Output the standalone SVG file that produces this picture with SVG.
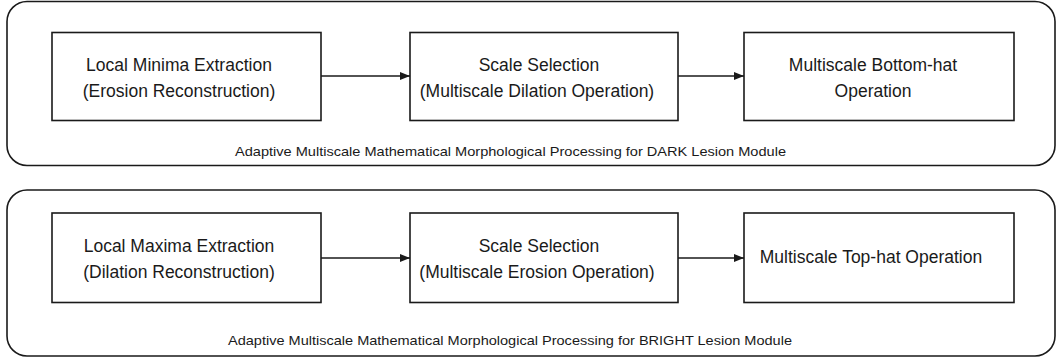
<svg xmlns="http://www.w3.org/2000/svg" width="1058" height="363" viewBox="0 0 1058 363">
  <style>
    .panel { fill: #fff; stroke: #1a1a1a; stroke-width: 1.6; }
    .box { fill: #fff; stroke: #1a1a1a; stroke-width: 1.6; }
    .label { font-family: "Liberation Sans", Arial, sans-serif; font-size: 17.5px; fill: #1a1a1a; text-anchor: middle; }
    .caption { font-family: "Liberation Sans", Arial, sans-serif; font-size: 13px; fill: #1a1a1a; text-anchor: middle; }
    .edge { stroke: #1a1a1a; stroke-width: 1.6; fill: none; marker-end: url(#arrow); }
  </style>
  <defs>
    <marker id="arrow" markerWidth="10" markerHeight="8" refX="10" refY="4" orient="auto" markerUnits="userSpaceOnUse">
      <path d="M0,0 L10,4 L0,8 Z" fill="#1a1a1a"/>
    </marker>
  </defs>
  <rect width="1058" height="363" fill="#fff"/>

  <!-- Dark lesion module -->
  <g id="dark-module">
    <rect class="panel" x="7" y="1.5" width="1048" height="164" rx="20" ry="20"/>
    <text class="caption" x="510.5" y="155.5" textLength="551" lengthAdjust="spacingAndGlyphs">Adaptive Multiscale Mathematical Morphological Processing for DARK Lesion Module</text>
  </g>
  <g id="dark-minima">
    <rect class="box" x="52" y="32.5" width="269" height="88"/>
    <text class="label" x="179" y="71">Local Minima Extraction</text>
    <text class="label" x="179" y="97">(Erosion Reconstruction)</text>
  </g>
  <g id="dark-scale">
    <rect class="box" x="410" y="32.5" width="268" height="88"/>
    <text class="label" x="539" y="71">Scale Selection</text>
    <text class="label" x="537" y="97">(Multiscale Dilation Operation)</text>
  </g>
  <g id="dark-bottomhat">
    <rect class="box" x="744" y="32.5" width="270" height="88"/>
    <text class="label" x="873" y="71">Multiscale Bottom-hat</text>
    <text class="label" x="873" y="97">Operation</text>
  </g>

  <!-- Bright lesion module -->
  <g id="bright-module">
    <rect class="panel" x="7" y="190" width="1048" height="166" rx="20" ry="20"/>
    <text class="caption" x="510" y="344.5" textLength="564" lengthAdjust="spacingAndGlyphs">Adaptive Multiscale Mathematical Morphological Processing for BRIGHT Lesion Module</text>
  </g>
  <g id="bright-maxima">
    <rect class="box" x="52" y="213" width="269" height="89.5"/>
    <text class="label" x="179" y="252">Local Maxima Extraction</text>
    <text class="label" x="179" y="278">(Dilation Reconstruction)</text>
  </g>
  <g id="bright-scale">
    <rect class="box" x="410" y="213" width="268" height="89.5"/>
    <text class="label" x="539" y="252">Scale Selection</text>
    <text class="label" x="537" y="278">(Multiscale Erosion Operation)</text>
  </g>
  <g id="bright-tophat">
    <rect class="box" x="744" y="213" width="270" height="89.5"/>
    <text class="label" x="871" y="263">Multiscale Top-hat Operation</text>
  </g>

  <!-- Connectors -->
  <g id="connectors">
    <line class="edge" x1="321" y1="76" x2="410" y2="76"/>
    <line class="edge" x1="678" y1="76" x2="744" y2="76"/>
    <line class="edge" x1="321" y1="258" x2="410" y2="258"/>
    <line class="edge" x1="678" y1="258" x2="744" y2="258"/>
  </g>
</svg>
